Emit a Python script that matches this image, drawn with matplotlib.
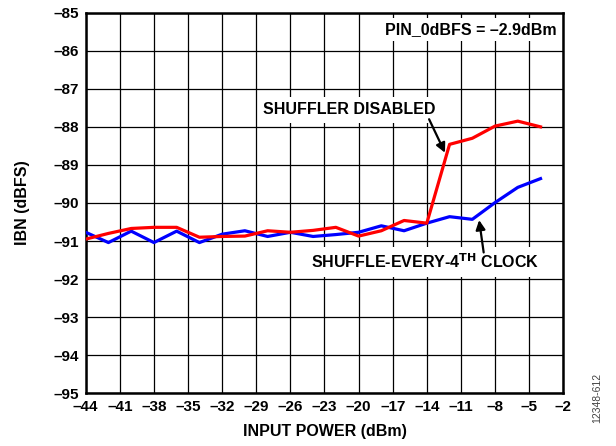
import numpy as np
import matplotlib
matplotlib.use("Agg")
import matplotlib.pyplot as plt

plt.rcParams['font.family'] = ['Liberation Sans', 'DejaVu Sans']
plt.rcParams['font.weight'] = 'bold'

# input power (dBm), every 2 dB
power = [-44, -42, -40, -38, -36, -34, -32, -30, -28, -26, -24,
         -22, -20, -18, -16, -14, -12, -10, -8, -6, -4]

# IBN (dBFS), shuffle every 4th clock
ibn_shuffle = [-90.77, -91.04, -90.74, -91.04, -90.74, -91.04, -90.82,
               -90.73, -90.88, -90.77, -90.88, -90.83, -90.77, -90.60,
               -90.73, -90.53, -90.36, -90.43, -89.99, -89.59, -89.36]

# IBN (dBFS), shuffler disabled
ibn_disabled = [-90.95, -90.80, -90.67, -90.64, -90.64, -90.90, -90.88,
                -90.87, -90.73, -90.77, -90.72, -90.64, -90.87, -90.73,
                -90.46, -90.53, -88.46, -88.30, -87.98, -87.85, -88.00]

xticks = np.arange(-44, -1, 3)
yticks = np.arange(-95, -84, 1)

fig = plt.figure(figsize=(6.16, 4.46), dpi=100)
ax = fig.add_axes([0.1391, 0.1182, 0.7753, 0.8534])

ax.plot(power, ibn_shuffle, color='#0000FF', lw=2.3, zorder=3)
ax.plot(power, ibn_disabled, color='#FF0000', lw=2.3, zorder=4)

ax.set_xlim(-44, -2)
ax.set_ylim(-95, -85)
ax.set_xticks(xticks)
ax.set_yticks(yticks)
ax.set_xticklabels(['\u2013%d' % -v for v in xticks])
ax.set_yticklabels(['\u2013%d' % -v for v in yticks])
ax.tick_params(length=0, labelsize=11, pad=5)
ax.grid(True, color='black', lw=0.9, zorder=1)
for s in ax.spines.values():
    s.set_linewidth(1.8)

ax.set_xlabel('INPUT POWER (dBm)', fontsize=11.5, fontweight='bold', labelpad=7)
ax.set_ylabel('IBN (dBFS)', fontsize=11.5, fontweight='bold', labelpad=17)

box = dict(facecolor='white', edgecolor='none', pad=3)
ax.text(-2.6, -85.45, 'PIN_0dBFS = \u20132.9dBm', ha='right', va='center',
        fontsize=11.5, fontweight='bold', bbox=box, zorder=5)

# labels with white background
ax.text(-20.8, -87.55, 'SHUFFLER DISABLED', ha='center', va='center',
        fontsize=11.5, fontweight='bold',
        bbox=dict(facecolor='white', edgecolor='none', pad=4), zorder=5)
ax.text(-14.1, -91.55, 'SHUFFLE-EVERY-4$^{\\mathbf{TH}}$ CLOCK',
        ha='center', va='center', fontsize=11.5, fontweight='bold',
        bbox=dict(facecolor='white', edgecolor='none', pad=4), zorder=5)

arrow = dict(arrowstyle='-|>', color='black', lw=1.6, mutation_scale=14,
             shrinkA=0, shrinkB=0)
ax.annotate('', xy=(-12.4, -88.68), xytext=(-13.8, -87.8),
            arrowprops=arrow, zorder=6)
ax.annotate('', xy=(-9.4, -90.45), xytext=(-9.0, -91.3),
            arrowprops=arrow, zorder=6)

fig.text(0.97, 0.108, '12348-612', rotation=90, fontsize=7.5, color='#444444',
         fontweight='normal', ha='center', va='center')

fig.savefig('out.png', dpi=100)
